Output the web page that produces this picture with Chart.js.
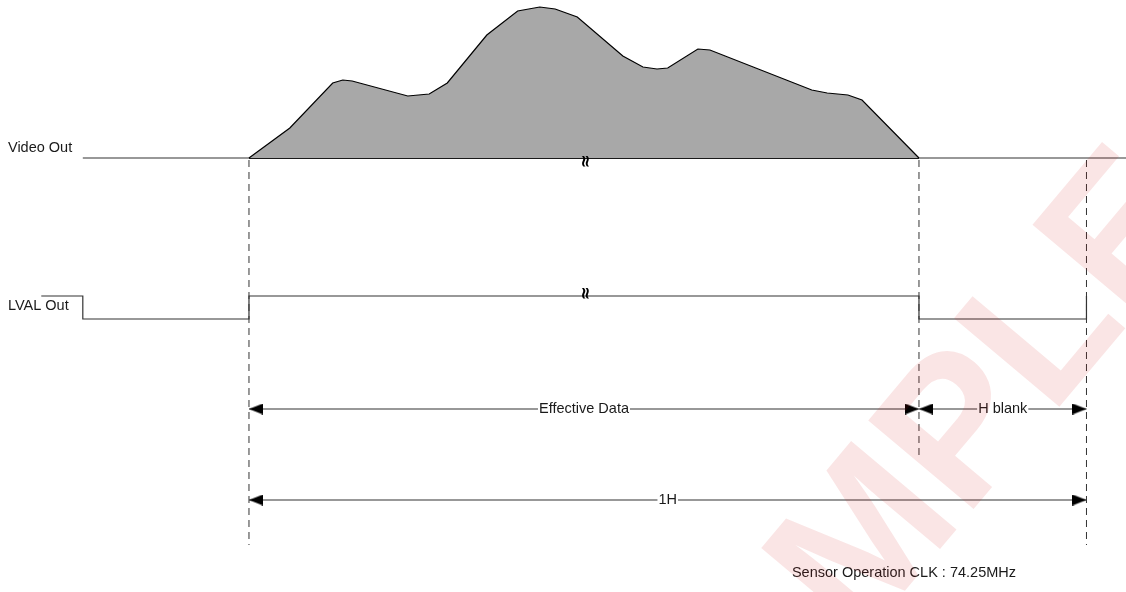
<!DOCTYPE html>
<html>
<head>
<meta charset="utf-8">
<script src="https://cdn.jsdelivr.net/npm/chart.js@4.4.0/dist/chart.umd.min.js"></script>
<style>
  html, body { margin: 0; padding: 0; background: #fff; }
  #wrap { width: 1126px; height: 592px; position: relative; }
</style>
</head>
<body>
<div id="wrap"><canvas id="timing"></canvas></div>
<script>
// ── Data ────────────────────────────────────────────────────────────────────
// time axis: 0 = start of effective data, 100 = end of effective data, 125 = end of 1H
const waveT   = [0, 6.1, 12.5, 14.0, 15.4, 23.7, 26.9, 29.6, 35.5, 40.1, 43.4, 45.7, 49.0, 55.8, 58.8, 60.9, 62.5, 67.0, 68.8, 84.0, 86.3, 89.4, 91.5, 100];
const waveAmp = [0, 30, 75, 78, 77, 62, 64, 75, 123, 147, 151, 149, 141, 102, 91, 89, 90, 109, 108, 68, 65, 63, 58, 0];

const lvalT     = [-31.0, -24.8, -24.8, 0, 0, 100, 100, 125, 125];
const lvalLevel = [1, 1, 0, 0, 1, 1, 0, 0, 1];

const edgeT   = [0, 100, 125];
const dimSpans = [[0, 100], [100, 125], [0, 125]];
const dimLabels = ['Effective Data', 'H blank', '1H'];
const signalLabels = ['Video Out', 'LVAL Out'];
const noteText = 'Sensor Operation CLK : 74.25MHz';

// ── Layout (rows on the reversed y scale) ──────────────────────────────────
const ROW_VIDEO = 158, ROW_LVAL_HI = 296, ROW_LVAL_LO = 319;
const ROW_DIM = [409, 409, 500];
const X_MIN = -37.16, X_MAX = 130.9;
const FONT = '14.5px "Liberation Sans", Arial, sans-serif';

// arrow heads as point images, tip sits at the point centre
function makeArrow(dir) {
    const c = document.createElement('canvas');
    c.width = 28; c.height = 11;
    const g = c.getContext('2d');
    g.fillStyle = '#000';
    g.beginPath();
    if (dir > 0) { g.moveTo(0, 0); g.lineTo(14, 5.5); g.lineTo(0, 11); }
    else { g.moveTo(28, 0); g.lineTo(14, 5.5); g.lineTo(28, 11); }
    g.closePath();
    g.fill();
    return c;
}
const arrowL = makeArrow(-1), arrowR = makeArrow(1);

const line = (data, extra) => Object.assign({
    data, showLine: true, pointRadius: 0, borderColor: '#333', borderWidth: 1.2, tension: 0, fill: false
}, extra || {});

const datasets = [];

// video waveform
datasets.push(line(waveT.map((t, i) => ({ x: t, y: ROW_VIDEO - waveAmp[i] })), {
    borderColor: '#000', borderWidth: 1.2, backgroundColor: '#a8a8a8', fill: { value: ROW_VIDEO }
}));
datasets.push(line([{ x: -24.8, y: ROW_VIDEO }, { x: X_MAX, y: ROW_VIDEO }]));
datasets.push(line([{ x: 0, y: ROW_VIDEO }, { x: 100, y: ROW_VIDEO }], { borderColor: '#000', borderWidth: 2.2 }));

// LVAL
datasets.push(line(lvalT.map((t, i) => ({ x: t, y: lvalLevel[i] ? ROW_LVAL_HI : ROW_LVAL_LO }))));

// dashed edges
const edgeBottom = [545, 455, 545];
edgeT.forEach((t, i) => {
    datasets.push(line([{ x: t, y: ROW_VIDEO + 2 }, { x: t, y: edgeBottom[i] }], { borderDash: [7, 5], borderWidth: 1 }));
});

// dimension arrows
dimSpans.forEach((s, i) => {
    datasets.push(line([{ x: s[0], y: ROW_DIM[i] }, { x: s[1], y: ROW_DIM[i] }], {
        pointRadius: 5, pointStyle: [arrowL, arrowR]
    }));
});

// ── Text plugin ────────────────────────────────────────────────────────────
const diagramText = {
    id: 'diagramText',
    afterDatasetsDraw(chart) {
        const { ctx, scales: { x, y } } = chart;
        ctx.save();
        ctx.font = FONT;
        ctx.fillStyle = '#1a1a1a';
        ctx.textBaseline = 'middle';

        ctx.textAlign = 'left';
        ctx.fillText(signalLabels[0], x.getPixelForValue(-35.97), y.getPixelForValue(148));
        ctx.fillText(signalLabels[1], x.getPixelForValue(-35.97), y.getPixelForValue(306));
        ctx.fillText(noteText, x.getPixelForValue(81.04), y.getPixelForValue(573));

        ctx.textAlign = 'center';
        dimSpans.forEach((s, i) => {
            const cx = x.getPixelForValue((s[0] + s[1]) / 2);
            const cy = y.getPixelForValue(ROW_DIM[i]);
            const w = ctx.measureText(dimLabels[i]).width;
            ctx.fillStyle = '#fff';
            ctx.fillRect(cx - w / 2 - 1, cy - 8, w + 2, 16);
            ctx.fillStyle = '#1a1a1a';
            ctx.fillText(dimLabels[i], cx, cy);
        });

        // break marks
        ctx.font = 'bold 17px "DejaVu Sans", sans-serif';
        ctx.fillStyle = '#000';
        [[50, 161], [50, 293]].forEach(p => {
            ctx.save();
            ctx.translate(x.getPixelForValue(p[0]), y.getPixelForValue(p[1]));
            ctx.rotate(Math.PI / 2);
            ctx.fillText('≈', 0, 0);
            ctx.restore();
        });
        ctx.restore();
    },
    afterDraw(chart) {
        // faint watermark
        const { ctx } = chart;
        ctx.save();
        ctx.globalAlpha = 0.11;
        ctx.fillStyle = '#d01010';
        ctx.translate(905, 505);
        ctx.rotate(-Math.PI * 50 / 180);
        ctx.font = 'bold 200px "Liberation Sans", Arial, sans-serif';
        ctx.textAlign = 'center';
        ctx.textBaseline = 'middle';
        ctx.fillText('SAMPLE', 0, 0);
        ctx.restore();
    }
};

new Chart(document.getElementById('timing'), {
    type: 'scatter',
    data: { datasets },
    options: {
        responsive: true,
        maintainAspectRatio: false,
        animation: false,
        layout: { padding: 0, autoPadding: false },
        plugins: { legend: { display: false }, tooltip: { enabled: false } },
        scales: {
            x: { type: 'linear', min: X_MIN, max: X_MAX, display: false },
            y: { type: 'linear', min: 0, max: 592, reverse: true, display: false }
        }
    },
    plugins: [diagramText]
});
</script>
</body>
</html>
